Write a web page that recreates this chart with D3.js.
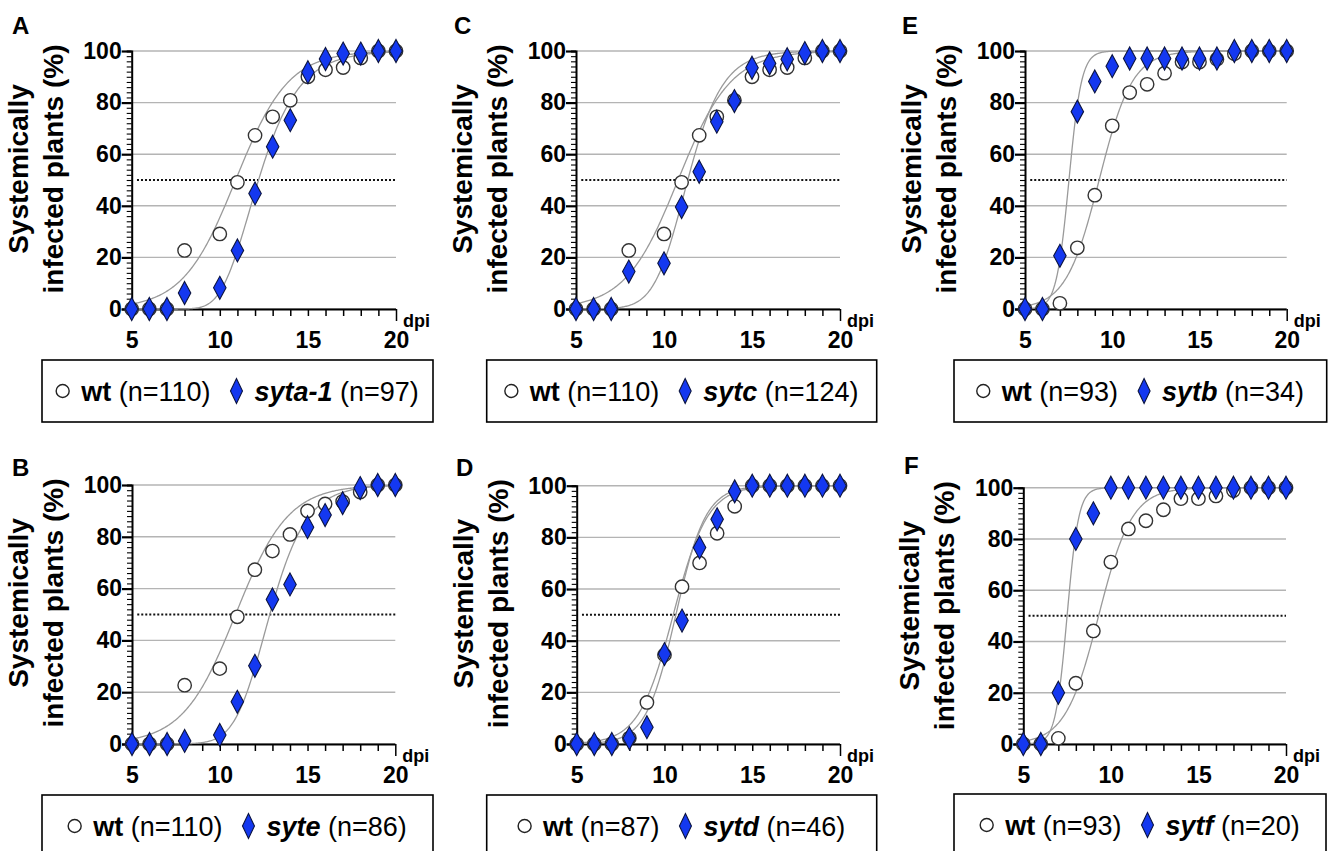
<!DOCTYPE html>
<html><head><meta charset="utf-8">
<script src="https://cdn.jsdelivr.net/npm/d3@7"></script>
<style>
html,body{margin:0;padding:0;background:#fff;}
svg{display:block;font-family:"Liberation Sans",Arial,Helvetica,sans-serif;}
</style></head><body>
<svg id="chart" width="1333" height="851"></svg>
<script>
// ---------- data ----------
const dpi = [5,6,7,8,9,10,11,12,13,14,15,16,17,18,19,20];
const xTicks = [5,10,15,20];
const yTicks = [0,20,40,60,80,100];
// % systemically infected plants per day (null = not scored)
const wt110 = [0,0,0,22.7,null,29.1,49.1,67.3,74.5,80.9,90.0,92.7,93.6,97.3,100,100];
const syta1 = [0,0,0,6.2,null,8.2,22.7,44.8,62.9,73.2,91.8,96.9,99.0,99.0,100,100];
const sytc  = [0,0,0,14.5,null,17.7,39.5,53.2,72.6,80.6,93.5,95.2,96.8,99.2,100,100];
const syte  = [0,0,0,1.2,null,3.5,16.3,30.2,55.8,61.6,83.7,88.4,93.0,98.8,100,100];
const wt87  = [0,0,0,2.3,16.1,34.5,60.9,70.1,81.6,92.0,100,100,100,100,100,100];
const sytd  = [0,0,0,2.2,6.5,34.8,47.8,76.1,87.0,97.8,100,100,100,100,100,100];
const wt93  = [0,0,2.2,23.7,44.1,71.0,83.9,87.1,91.4,95.7,95.7,96.8,98.9,100,100,100];
const sytb  = [0,0,20.6,76.5,88.2,94.1,97.1,97.1,97.1,97.1,97.1,97.1,100,100,100,100];
const sytf  = [0,0,20.0,80.0,90.0,100,100,100,100,100,100,100,100,100,100,100];
// legend labels
const panelLetters = ["A","C","E","B","D","F"];
const wtCounts  = [110,110,93,110,87,93];
const mutNames  = ["syta-1","sytc","sytb","syte","sytd","sytf"];
const mutCounts = [97,124,34,86,46,20];
// fitted sigmoid parameters: [midpoint (50%), scale, asymmetry]
const wtFit  = [[10.9,1.5,1],[10.8,1.5,1],[9.25,0.95,1],[10.9,1.5,1],[10.5,0.98,1],[9.3,0.95,1]];
const mutFit = [[12.2,1.5,0.1],[11.35,1.15,0.5],[7.52,0.36,1],[12.85,1.25,0.4],[10.65,0.85,1],[7.5,0.33,1]];
const wtSeries  = [wt110, wt110, wt93, wt110, wt87, wt93];
const mutSeries = [syta1, sytc, sytb, syte, sytd, sytf];

// ---------- layout ----------
const layout = [
  {x0:131.7, x1:396,   y100:51,    y0:309, box:[42,360,433,422],      letter:[12,34]},
  {x0:576,   x1:840,   y100:51,    y0:309, box:[486.7,360,876.7,422], letter:[454,34]},
  {x0:1025,  x1:1286.7,y100:51,    y0:309, box:[954,360,1326.7,422],  letter:[902,34]},
  {x0:132,   x1:395.3, y100:485,   y0:744, box:[42,795,433,857],      letter:[12,476]},
  {x0:576.7, x1:840,   y100:485.7, y0:744, box:[486.7,795,876.7,857], letter:[456,476]},
  {x0:1023.3,x1:1286,  y100:487.7, y0:744, box:[954,794,1326,856],    letter:[904,474]}
];
const BLUE = "#1438f0";
const svg = d3.select("#chart");

function sig(x, p){
  const [m,k,s] = p;
  return 100*Math.pow(1 + (Math.pow(2,s)-1)*Math.exp(-(x-m)/k), -1/s);
}
const diamond = (w,h) => `M0,${-h/2}L${w/2},0L0,${h/2}L${-w/2},0Z`;

layout.forEach((L, i) => {
  const g = svg.append("g");
  const x = d3.scaleLinear().domain([5,20]).range([L.x0, L.x1]);
  const y = d3.scaleLinear().domain([0,100]).range([L.y0, L.y100]);

  // grid
  g.selectAll(".grid").data(yTicks).join("line")
    .attr("x1", L.x0).attr("x2", L.x1)
    .attr("y1", d=>y(d)).attr("y2", d=>y(d))
    .attr("stroke", "#b4b4b4").attr("stroke-width", 1.4);
  // 50% dotted line
  g.append("line").attr("x1", x(5.3)).attr("x2", x(20)).attr("y1", y(50)).attr("y2", y(50))
    .attr("stroke", "#111").attr("stroke-width", 2).attr("stroke-dasharray", "2,2");

  // y axis
  const yAxis = d3.axisLeft(y).tickValues(d3.range(0,101,2)).tickSize(5).tickFormat("");
  const ya = g.append("g").attr("transform", `translate(${L.x0},0)`).call(yAxis);
  ya.select(".domain").attr("stroke", "#000").attr("stroke-width", 2);
  ya.selectAll(".tick line").attr("stroke", "#000")
    .attr("x2", d => d % 20 === 0 ? -10 : -5)
    .attr("stroke-width", d => d % 20 === 0 ? 2.2 : 1.1);
  const ya2 = g.append("g").attr("transform", `translate(${L.x0},0)`)
    .call(d3.axisLeft(y).tickValues(yTicks).tickSize(0).tickPadding(10));
  ya2.select(".domain").remove();
  ya2.selectAll("text").attr("font-size", 23).attr("font-weight", "bold").attr("fill", "#000")
    .attr("font-family", "'Liberation Sans',Arial,sans-serif");

  // x axis
  const xAxis = d3.axisBottom(x).tickValues(dpi).tickSizeOuter(0)
    .tickFormat(d => xTicks.includes(d) ? d : "");
  const xa = g.append("g").attr("transform", `translate(0,${L.y0})`).call(xAxis);
  xa.select(".domain").attr("stroke", "#000").attr("stroke-width", 2)
    .attr("d", `M${L.x0-10},0.5H${L.x1}`);
  xa.selectAll(".tick line").attr("stroke", "#000").attr("stroke-width", 1.5)
    .attr("y2", d => d === 20 ? 12 : 7);
  xa.selectAll("text").attr("font-size", 23).attr("font-weight", "bold").attr("fill", "#000")
    .attr("y", 23).attr("dy", "0.71em").attr("font-family", "'Liberation Sans',Arial,sans-serif");
  g.append("text").attr("x", L.x1 + 7).attr("y", L.y0 + 18).text("dpi")
    .attr("font-size", 18).attr("font-weight", "bold");

  // y title
  const cy = L.y100 + 118;
  g.append("text").attr("transform", `translate(${L.x0-104},${cy}) rotate(-90)`)
    .attr("text-anchor", "middle").attr("font-size", 28).attr("font-weight", "bold")
    .text("Systemically");
  g.append("text").attr("transform", `translate(${L.x0-69},${cy}) rotate(-90)`)
    .attr("text-anchor", "middle").attr("font-size", 28).attr("font-weight", "bold")
    .text("infected plants (%)");

  // panel letter
  g.append("text").attr("x", L.letter[0]).attr("y", L.letter[1]).text(panelLetters[i])
    .attr("font-size", 24).attr("font-weight", "bold");

  // fitted curves
  const xs = d3.range(5, 20.001, 0.05);
  const line = d3.line().x(d=>x(d)).curve(d3.curveLinear);
  [wtFit[i], mutFit[i]].forEach(p => {
    g.append("path").datum(xs).attr("fill","none").attr("stroke","#9a9a9a").attr("stroke-width",1.3)
      .attr("d", line.y(d => y(sig(d,p))));
  });

  // points
  const wtPts = dpi.map((d,j)=>({d, v: wtSeries[i][j]})).filter(p=>p.v!==null);
  const mutPts = dpi.map((d,j)=>({d, v: mutSeries[i][j]})).filter(p=>p.v!==null);
  g.selectAll(".wt").data(wtPts).join("circle")
    .attr("cx", p=>x(p.d)).attr("cy", p=>y(p.v)).attr("r", 6.7)
    .attr("fill", "#fff").attr("stroke", "#333").attr("stroke-width", 1.4);
  g.selectAll(".mut").data(mutPts).join("path")
    .attr("transform", p=>`translate(${x(p.d)},${y(p.v)})`)
    .attr("d", diamond(12.5,23)).attr("fill", BLUE).attr("stroke", "#0b1440").attr("stroke-width", 1.1);

  // legend
  const [bx0,by0,bx1,by1] = L.box;
  g.append("rect").attr("x", bx0).attr("y", by0).attr("width", bx1-bx0).attr("height", by1-by0)
    .attr("fill","none").attr("stroke","#000").attr("stroke-width",1.6);
  const lg = g.append("g");
  const ty = (by0 + by1)/2 + 9.5;
  const fs = 27;
  let cx = 0;
  lg.append("circle").attr("cx", 6.5).attr("cy", ty-9.5).attr("r", 6.5)
    .attr("fill","#fff").attr("stroke","#222").attr("stroke-width",1.4);
  cx = 13 + 12;
  const t1 = lg.append("text").attr("x", cx).attr("y", ty).attr("font-size", fs);
  t1.append("tspan").attr("font-weight","bold").text("wt");
  t1.append("tspan").text(` (n=${wtCounts[i]})`);
  cx += t1.node().getComputedTextLength() + 20;
  lg.append("path").attr("transform", `translate(${cx+6},${ty-9.5})`).attr("d", diamond(12,25))
    .attr("fill", BLUE).attr("stroke","#0b1440").attr("stroke-width",1.1);
  cx += 12 + 12;
  const t2 = lg.append("text").attr("x", cx).attr("y", ty).attr("font-size", fs);
  t2.append("tspan").attr("font-weight","bold").attr("font-style","italic").text(mutNames[i]);
  t2.append("tspan").text(` (n=${mutCounts[i]})`);
  cx += t2.node().getComputedTextLength();
  lg.attr("transform", `translate(${(bx0+bx1)/2 - cx/2},0)`);
});
</script>
</body></html>
